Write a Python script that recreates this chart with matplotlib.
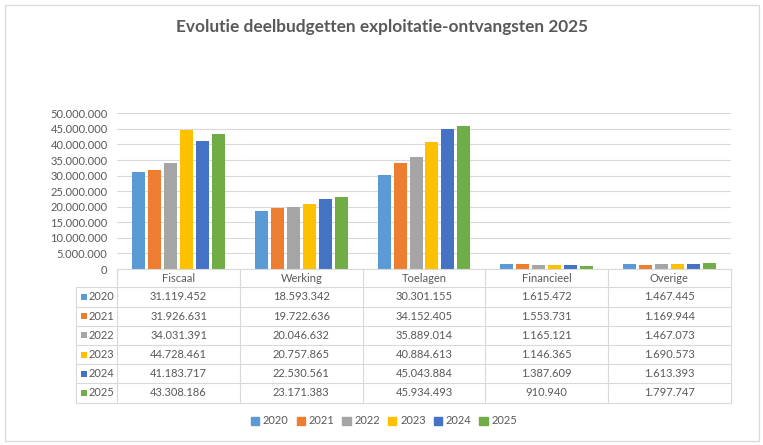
import matplotlib
matplotlib.use('Agg')
import matplotlib.pyplot as plt
from matplotlib.patches import Rectangle, Patch
from matplotlib.ticker import FuncFormatter, MultipleLocator

categories = ['Fiscaal', 'Werking', 'Toelagen', 'Financieel', 'Overige']
years = ['2020', '2021', '2022', '2023', '2024', '2025']
v2020 = [31119452, 18593342, 30301155, 1615472, 1467445]
v2021 = [31926631, 19722636, 34152405, 1553731, 1169944]
v2022 = [34031391, 20046632, 35889014, 1165121, 1467073]
v2023 = [44728461, 20757865, 40884613, 1146365, 1690573]
v2024 = [41183717, 22530561, 45043884, 1387609, 1613393]
v2025 = [43308186, 23171383, 45934493, 910940, 1797747]
series = [v2020, v2021, v2022, v2023, v2024, v2025]
colors = ['#5B9BD5', '#ED7D31', '#A5A5A5', '#FFC000', '#4472C4', '#70AD47']

TXT = '#595959'
GRID = '#D9D9D9'
FS = 8
plt.rcParams['font.family'] = ['Lato', 'DejaVu Sans']

W, H = 763, 445
fig = plt.figure(figsize=(W / 100, H / 100), dpi=100)


def fmt(v):
    return f'{int(v):,}'.replace(',', '.')


# plot area in pixel coordinates
left, right, top, bottom = 117.3, 730.7, 113.3, 269.0
col_w = (right - left) / len(categories)

ax = fig.add_axes([left / W, 1 - bottom / H, (right - left) / W, (bottom - top) / H])
ax.patch.set_alpha(0)
step, bw = 0.130, 0.106
for j, vals in enumerate(series):
    xs = [i + 0.5 + (j - 2.5) * step for i in range(len(categories))]
    ax.bar(xs, vals, width=bw, color=colors[j], zorder=3)
ax.set_xlim(0, len(categories))
ax.set_ylim(0, 50_000_000)
ax.yaxis.set_major_locator(MultipleLocator(5_000_000))
ax.yaxis.set_major_formatter(FuncFormatter(lambda v, p: fmt(v)))
ax.grid(axis='y', color=GRID, lw=0.8, zorder=0)
ax.set_xticks([])
ax.tick_params(axis='y', length=0, pad=7, labelsize=FS, labelcolor=TXT)
for s in ax.spines.values():
    s.set_visible(False)

# overlay in pixel coordinates for table, border and title
ov = fig.add_axes([0, 0, 1, 1])
ov.set_xlim(0, W)
ov.set_ylim(H, 0)
ov.axis('off')

ov.add_patch(Rectangle((5, 5), 754, 436, fill=False, ec=GRID, lw=0.9))
ov.text(382, 27, 'Evolutie deelbudgetten exploitatie-ontvangsten 2025',
        ha='center', va='center', fontsize=12.4, color=TXT, fontweight='bold')

# data table
row_h = 19.2
hdr_bot = 287.3
tbl_left = 76
tbl_bot = hdr_bot + row_h * len(years)
lw = 0.8
ov.plot([left, right], [bottom, bottom], color=GRID, lw=lw)
for r in range(len(years) + 1):
    y = hdr_bot + r * row_h
    ov.plot([tbl_left, right], [y, y], color=GRID, lw=lw)
ov.plot([tbl_left, tbl_left], [hdr_bot, tbl_bot], color=GRID, lw=lw)
for c in range(len(categories) + 1):
    x = left + c * col_w
    ov.plot([x, x], [bottom, tbl_bot], color=GRID, lw=lw)

for i, cat in enumerate(categories):
    ov.text(left + (i + 0.5) * col_w, (bottom + hdr_bot) / 2, cat,
            ha='center', va='center', fontsize=FS, color=TXT)
for j, (yr, vals) in enumerate(zip(years, series)):
    yc = hdr_bot + (j + 0.5) * row_h
    ov.add_patch(Rectangle((80.7, yc - 3), 6, 6, color=colors[j], lw=0))
    ov.text(89, yc, yr, ha='left', va='center', fontsize=FS, color=TXT)
    for i, v in enumerate(vals):
        ov.text(left + (i + 0.5) * col_w, yc, fmt(v),
                ha='center', va='center', fontsize=FS, color=TXT)

handles = [Patch(color=c, label=y) for c, y in zip(colors, years)]
fig.legend(handles=handles, loc='center', bbox_to_anchor=(384 / W, 1 - 421 / H),
           ncol=6, frameon=False, fontsize=FS, labelcolor=TXT,
           handlelength=0.75, handleheight=0.75, handletextpad=0.35,
           columnspacing=0.7)

fig.savefig('out.png', dpi=100)
